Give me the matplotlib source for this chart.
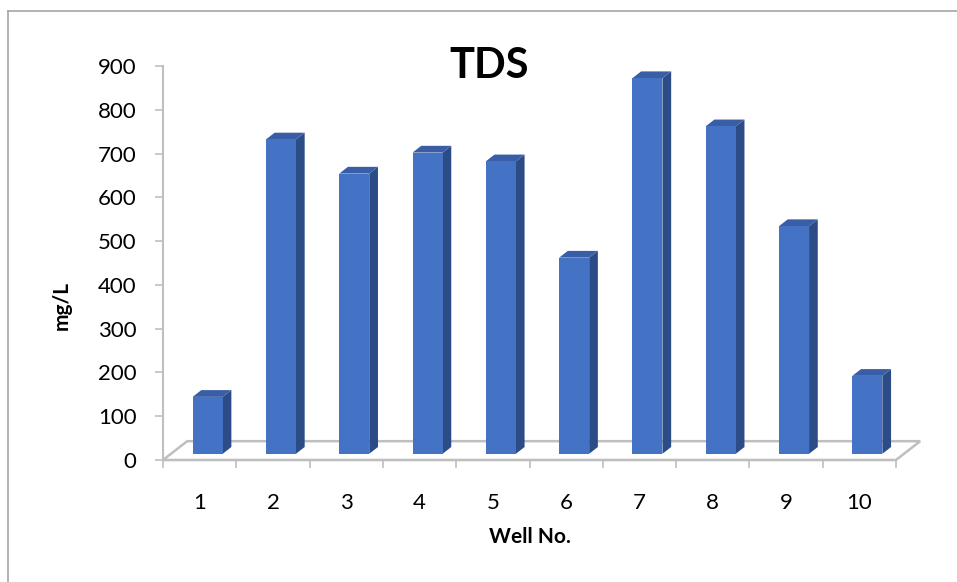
import numpy as np
import matplotlib
matplotlib.use("Agg")
import matplotlib.pyplot as plt
from matplotlib.patches import Polygon
from matplotlib.lines import Line2D

# data
WELLS  = ["1", "2", "3", "4", "5", "6", "7", "8", "9", "10"]
TDS    = [130, 718, 640, 688, 668, 448, 858, 748, 520, 178]
YTICKS = list(range(0, 901, 100))

FRONT = "#4472C4"
SIDE  = "#2C4C88"
TOP   = "#3A5EA6"
GREY  = "#BFBFBF"

W, H = 957, 582
plt.rcParams["font.family"] = ["Lato", "DejaVu Sans"]

fig = plt.figure(figsize=(W / 100, H / 100), dpi=100)
# plot area in pixels: x 163..896, y 66 (900) .. 460 (0)
ax = fig.add_axes([163 / W, 1 - 460 / H, 733 / W, 394 / H])
n = len(WELLS)
ax.set_xlim(0, n)
ax.set_ylim(0, 900)

# 3d look: floor depth vector and bar placement (in data units)
depth_x, depth_y = 0.33, 43.0
f0, f1 = 0.33, 0.69          # bar depth range as fraction of floor depth
bw = 0.41                    # bar width (category units)

floor = Polygon([(0, 0), (n, 0), (n + depth_x, depth_y), (depth_x, depth_y)],
                closed=True, facecolor="white", edgecolor=GREY, lw=1.8,
                clip_on=False, zorder=1)
ax.add_patch(floor)

for i, v in enumerate(TDS):
    c = i + 0.5
    ox, oy = c + f0 * depth_x, f0 * depth_y
    dx, dy = (f1 - f0) * depth_x, (f1 - f0) * depth_y
    xl, xr = ox - bw / 2, ox + bw / 2
    side = Polygon([(xr, oy), (xr + dx, oy + dy), (xr + dx, oy + dy + v), (xr, oy + v)],
                   closed=True, facecolor=SIDE, edgecolor="none", clip_on=False, zorder=3)
    top = Polygon([(xl, oy + v), (xr, oy + v), (xr + dx, oy + v + dy), (xl + dx, oy + v + dy)],
                  closed=True, facecolor=TOP, edgecolor="none", clip_on=False, zorder=3)
    front = Polygon([(xl, oy), (xr, oy), (xr, oy + v), (xl, oy + v)],
                    closed=True, facecolor=FRONT, edgecolor="none", clip_on=False, zorder=4)
    for p in (side, top, front):
        ax.add_patch(p)

for s in ("top", "right"):
    ax.spines[s].set_visible(False)
for s in ("left", "bottom"):
    ax.spines[s].set_color(GREY)
    ax.spines[s].set_linewidth(1.5)
ax.spines["bottom"].set_zorder(2)

ax.set_yticks(YTICKS)
ax.set_yticklabels([str(t) for t in YTICKS], fontsize=16)
ax.tick_params(axis="y", length=6, width=1.2, color=GREY, pad=13)

ax.set_xticks(np.arange(n) + 0.5)
ax.set_xticklabels(WELLS, fontsize=16)
ax.set_xticks(np.arange(n + 1), minor=True)
ax.tick_params(axis="x", which="major", length=0, pad=24)
ax.tick_params(axis="x", which="minor", length=6, width=1.2, color=GREY)

ax.set_xlabel("Well No.", fontsize=15, fontweight="bold", labelpad=10)
fig.text(62 / W, 1 - 305 / H, "mg/L", fontsize=15, fontweight="bold",
         rotation=90, ha="center", va="center")
fig.text(489 / W, 1 - 78 / H, "TDS", fontsize=30, fontweight="bold",
         ha="center", va="baseline")

# chart frame (left and top edges visible)
fig.add_artist(Line2D([8 / W, 8 / W], [0, 1 - 11 / H], color="#A6A6A6", lw=1.2))
fig.add_artist(Line2D([8 / W, 1], [1 - 11 / H, 1 - 11 / H], color="#A6A6A6", lw=1.2))

fig.savefig("out.png", dpi=100)
